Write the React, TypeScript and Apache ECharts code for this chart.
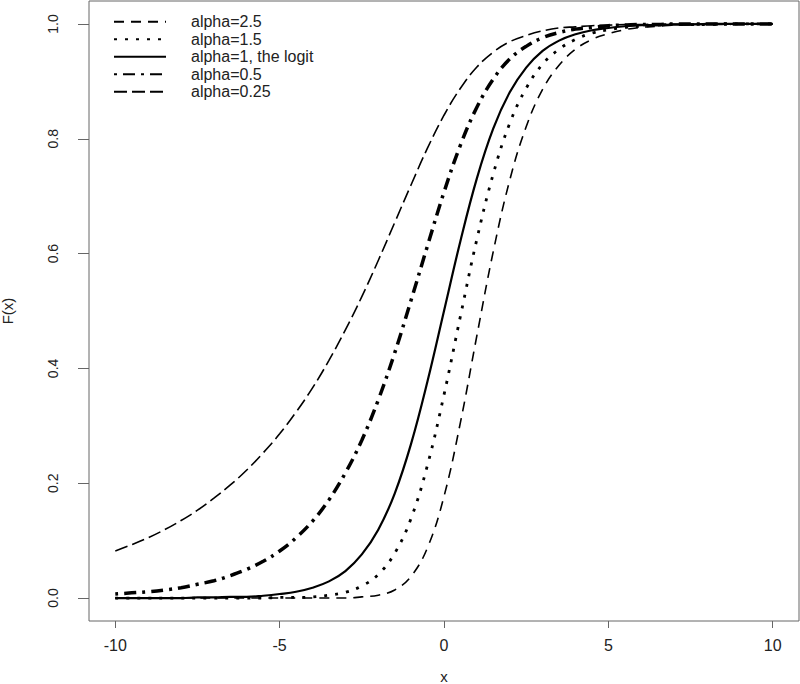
import React, { useEffect, useRef } from "react";
import * as echarts from "echarts";

const xs = [-10, -9.5, -9, -8.5, -8, -7.5, -7, -6.5, -6, -5.5, -5, -4.5, -4, -3.5, -3, -2.5, -2, -1.5, -1, -0.5, 0, 0.5, 1, 1.5, 2, 2.5, 3, 3.5, 4, 4.5, 5, 5.5, 6, 6.5, 7, 7.5, 8, 8.5, 9, 9.5, 10];

const alpha25 = [0, 0, 0, 0, 0, 0, 0, 0, 0, 0, 0, 0, 0, 0, 0, 0.002, 0.005, 0.014, 0.038, 0.088, 0.177, 0.306, 0.457, 0.604, 0.728, 0.821, 0.886, 0.928, 0.956, 0.973, 0.983, 0.99, 0.994, 0.996, 0.998, 0.999, 0.999, 0.999, 1, 1, 1];
const alpha15 = [0, 0, 0, 0, 0, 0, 0, 0, 0, 0, 0.001, 0.001, 0.002, 0.005, 0.01, 0.021, 0.041, 0.078, 0.139, 0.232, 0.354, 0.491, 0.625, 0.739, 0.827, 0.888, 0.93, 0.956, 0.973, 0.984, 0.99, 0.994, 0.996, 0.998, 0.999, 0.999, 0.999, 1, 1, 1, 1];
const alpha1 = [0, 0, 0, 0, 0, 0.001, 0.001, 0.002, 0.002, 0.004, 0.007, 0.011, 0.018, 0.029, 0.047, 0.076, 0.119, 0.182, 0.269, 0.378, 0.5, 0.622, 0.731, 0.818, 0.881, 0.924, 0.953, 0.971, 0.982, 0.989, 0.993, 0.996, 0.998, 0.998, 0.999, 0.999, 1, 1, 1, 1, 1];
const alpha05 = [0.007, 0.009, 0.011, 0.014, 0.018, 0.024, 0.03, 0.039, 0.05, 0.064, 0.082, 0.105, 0.134, 0.171, 0.218, 0.275, 0.345, 0.427, 0.519, 0.614, 0.707, 0.789, 0.855, 0.904, 0.939, 0.961, 0.976, 0.985, 0.991, 0.994, 0.997, 0.998, 0.999, 0.999, 1, 1, 1, 1, 1, 1, 1];
const alpha025 = [0.082, 0.093, 0.105, 0.119, 0.135, 0.153, 0.174, 0.197, 0.223, 0.253, 0.286, 0.324, 0.366, 0.414, 0.467, 0.525, 0.588, 0.654, 0.72, 0.784, 0.841, 0.888, 0.925, 0.951, 0.969, 0.98, 0.988, 0.993, 0.995, 0.997, 0.998, 0.999, 0.999, 1, 1, 1, 1, 1, 1, 1, 1];

const xTicks = [-10, -5, 0, 5, 10];
const yTicks = [0, 0.2, 0.4, 0.6, 0.8, 1.0];
const seriesNames = ["alpha=2.5", "alpha=1.5", "alpha=1, the logit", "alpha=0.5", "alpha=0.25"];

const FONT = "'Liberation Sans', Arial, Helvetica, sans-serif";

export default function App() {
  const ref = useRef<HTMLDivElement>(null);
  useEffect(() => {
    if (!ref.current) return;
    const chart = echarts.init(ref.current, null, { renderer: "svg" });
    const pair = (vals: number[]) => xs.map((x, i) => [x, vals[i]]);
    const styles: any[] = [
      { type: [10, 7], width: 1.6 },
      { type: [3, 8], width: 2.8 },
      { type: "solid", width: 2.2 },
      { type: [3, 6, 12, 6], width: 3.5 },
      { type: [13, 5], width: 1.6 },
    ];
    const datas = [alpha25, alpha15, alpha1, alpha05, alpha025];
    chart.setOption({
      animation: false,
      backgroundColor: "#ffffff",
      textStyle: { fontFamily: FONT },
      grid: {
        left: 89,
        right: 1,
        top: 1,
        bottom: 63,
        containLabel: false,
        outerBoundsMode: "none",
        show: true,
        borderColor: "#666",
        borderWidth: 1,
        backgroundColor: "transparent",
      },
      legend: {
        orient: "vertical",
        left: 108,
        top: 8,
        itemWidth: 52,
        itemHeight: 14,
        itemGap: 0,
        data: seriesNames,
        itemStyle: { opacity: 0, borderWidth: 0 },
        textStyle: {
          fontSize: 16,
          color: "#222",
          lineHeight: 17.5,
          padding: [0, 0, 0, 20],
          fontFamily: FONT,
        },
      },
      xAxis: {
        type: "value",
        min: -10.8,
        max: 10.8,
        name: "x",
        nameLocation: "middle",
        nameGap: 48,
        nameTextStyle: { fontSize: 15, color: "#222", fontFamily: FONT },
        axisLine: { show: false, onZero: false },
        splitLine: { show: false },
        axisTick: {
          show: true,
          length: 7,
          customValues: xTicks,
          lineStyle: { color: "#666" },
        },
        axisLabel: {
          customValues: xTicks,
          margin: 16,
          fontSize: 16,
          color: "#222",
          fontFamily: FONT,
        },
      },
      yAxis: {
        type: "value",
        min: -0.04,
        max: 1.04,
        name: "F(x)",
        nameLocation: "middle",
        nameGap: 74,
        nameRotate: 90,
        nameTextStyle: { fontSize: 15, color: "#222", fontFamily: FONT },
        axisLine: { show: false, onZero: false },
        splitLine: { show: false },
        axisTick: {
          show: true,
          length: 11,
          customValues: yTicks,
          lineStyle: { color: "#666" },
        },
        axisLabel: {
          customValues: yTicks,
          rotate: 90,
          margin: 29,
          fontSize: 14,
          color: "#222",
          fontFamily: FONT,
          formatter: (v: number) => v.toFixed(1),
        },
      },
      series: seriesNames.map((name, i) => ({
        name,
        type: "line",
        data: pair(datas[i]),
        symbol: "none",
        showSymbol: false,
        smooth: 0.4,
        lineStyle: { color: "#000", ...styles[i] },
        itemStyle: { color: "#000" },
        emphasis: { disabled: true },
      })),
    });
    return () => chart.dispose();
  }, []);
  return (
    <div
      ref={ref}
      style={{ position: "absolute", left: 0, top: 0, width: 800, height: 684, background: "#fff" }}
    />
  );
}
